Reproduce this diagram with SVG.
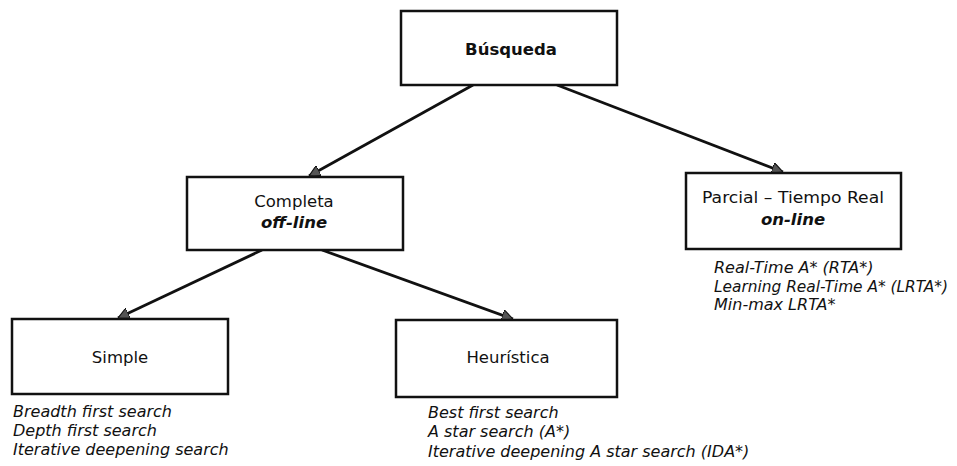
<svg xmlns="http://www.w3.org/2000/svg" width="957" height="466" viewBox="0 0 957 466">
<style>
.box{fill:#fff;stroke:#111;stroke-width:2.5}
.t{font-family:"DejaVu Sans",Verdana,sans-serif;font-size:16.5px;fill:#111;text-anchor:middle}
.b{font-weight:bold}
.bi{font-weight:bold;font-style:italic}
.l{font-family:"DejaVu Sans",Verdana,sans-serif;font-size:16px;font-style:italic;fill:#111}
.c{stroke:#111;stroke-width:2.8;fill:none;marker-end:url(#ah)}
</style>
<defs>
<marker id="ah" viewBox="0 0 10 10" refX="10" refY="5" markerWidth="4" markerHeight="4" orient="auto" markerUnits="strokeWidth">
<path d="M0,0 L10,5 L0,10 z" fill="#555" stroke="#111" stroke-width="1"/>
</marker>
</defs>
<rect width="957" height="466" fill="#fff"/>
<g id="connectors">
<line class="c" x1="473" y1="85" x2="309" y2="176"/>
<line class="c" x1="557" y1="85" x2="783" y2="172"/>
<line class="c" x1="262" y1="250" x2="118" y2="318"/>
<line class="c" x1="322" y1="250" x2="513" y2="319"/>
</g>
<g id="busqueda">
<rect class="box" x="401" y="11" width="216" height="74"/>
<text class="t b" x="511" y="55">Búsqueda</text>
</g>
<g id="completa">
<rect class="box" x="187" y="177" width="216" height="73"/>
<text class="t" x="294" y="207">Completa</text>
<text class="t bi" x="294" y="228">off-line</text>
</g>
<g id="parcial">
<rect class="box" x="686" y="173" width="215" height="76"/>
<text class="t" x="793" y="203" textLength="182" lengthAdjust="spacingAndGlyphs">Parcial – Tiempo Real</text>
<text class="t bi" x="793" y="225">on-line</text>
<text class="l" x="714" y="273">Real-Time A* (RTA*)</text>
<text class="l" x="714" y="292" textLength="234" lengthAdjust="spacingAndGlyphs">Learning Real-Time A* (LRTA*)</text>
<text class="l" x="714" y="310">Min-max LRTA*</text>
</g>
<g id="simple">
<rect class="box" x="12" y="319" width="216" height="75"/>
<text class="t" x="120" y="363">Simple</text>
<text class="l" x="13" y="417">Breadth first search</text>
<text class="l" x="13" y="436">Depth first search</text>
<text class="l" x="13" y="455">Iterative deepening search</text>
</g>
<g id="heuristica">
<rect class="box" x="396" y="320" width="221" height="77"/>
<text class="t" x="508" y="363">Heurística</text>
<text class="l" x="428" y="418">Best first search</text>
<text class="l" x="428" y="437">A star search (A*)</text>
<text class="l" x="428" y="457">Iterative deepening A star search (IDA*)</text>
</g>
</svg>
